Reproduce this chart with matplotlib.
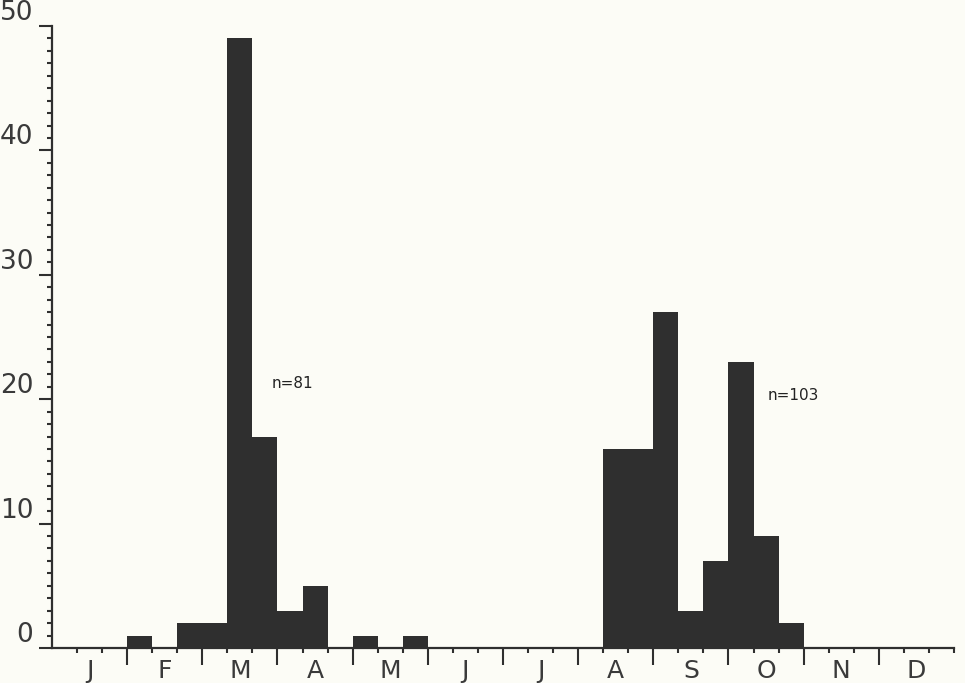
import matplotlib
matplotlib.use("Agg")
import matplotlib.pyplot as plt
from matplotlib.ticker import FixedLocator, MultipleLocator

# Data: counts per 10-day period (36 periods per year)
months = ["J", "F", "M", "A", "M", "J", "J", "A", "S", "O", "N", "D"]
spring_periods = [3, 5, 6, 7, 8, 9, 10, 12, 14]
spring_counts = [1, 2, 2, 49, 17, 3, 5, 1, 1]
autumn_periods = [22, 23, 24, 25, 26, 27, 28, 29]
autumn_counts = [16, 16, 27, 3, 7, 23, 9, 2]
yticks = [0, 10, 20, 30, 40, 50]
annotations = ["n=81", "n=103"]

bg = "#fcfcf6"
ink = "#2f2f2f"

fig = plt.figure(figsize=(9.65, 6.83), dpi=100, facecolor=bg)
ax = fig.add_axes([52/965, 1-648/683, (954-52)/965, (648-26)/683], facecolor=bg)

periods = spring_periods + autumn_periods
counts = spring_counts + autumn_counts
ax.bar(periods, counts, width=1.0, align="edge", color=ink, edgecolor="none")

ax.set_xlim(0, 36)
ax.set_ylim(0, 50)

for s in ["top", "right"]:
    ax.spines[s].set_visible(False)
for s in ["left", "bottom"]:
    ax.spines[s].set_linewidth(1.6)
    ax.spines[s].set_color(ink)

# y axis
ax.yaxis.set_major_locator(FixedLocator(yticks))
ax.yaxis.set_minor_locator(MultipleLocator(1))
ax.set_yticklabels([str(v) for v in yticks], fontsize=19, color="#3a3a3a",
                   family="DejaVu Sans")
for lab in ax.get_yticklabels():
    lab.set_va("bottom")
ax.tick_params(axis="y", which="major", direction="out", length=9.5, width=1.5,
               color=ink, pad=4)
ax.tick_params(axis="y", which="minor", direction="out", length=3.5, width=1.5,
               color=ink)

# x axis: month boundaries (long) and 10-day periods (short)
ax.xaxis.set_major_locator(FixedLocator([3*k for k in range(1, 12)]))
ax.xaxis.set_minor_locator(FixedLocator([k for k in range(1, 37) if k % 3 != 0] + [36]))
ax.set_xticklabels([])
ax.tick_params(axis="x", which="major", direction="out", length=12, width=1.5,
               color=ink)
ax.tick_params(axis="x", which="minor", direction="out", length=3.5, width=1.5,
               color=ink)

xt = ax.get_xaxis_transform()
for i, m in enumerate(months):
    ax.text(3*i + 1.5, -0.017, m, transform=xt, ha="center", va="top",
            fontsize=18, color="#3a3a3a", family="DejaVu Sans")

ax.text(8.75, 21.3, annotations[0], ha="left", va="center", fontsize=11,
        color="#222222", family="DejaVu Sans")
ax.text(28.55, 20.3, annotations[1], ha="left", va="center", fontsize=11,
        color="#222222", family="DejaVu Sans")

fig.savefig("out.png", dpi=100, facecolor=bg)
